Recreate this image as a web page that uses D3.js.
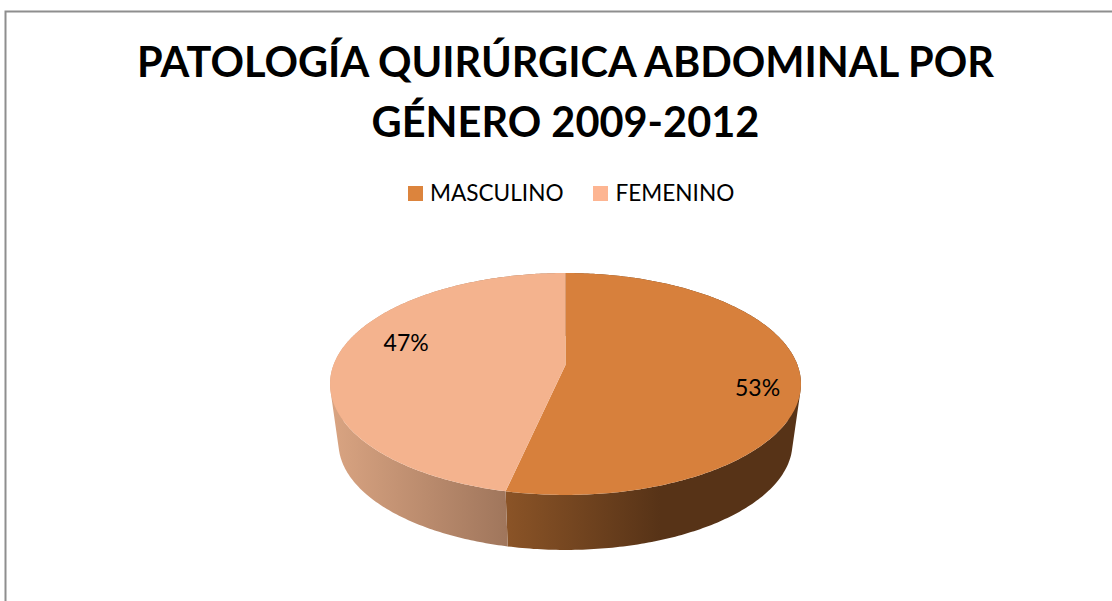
<!DOCTYPE html>
<html><head><meta charset="utf-8">
<script src="https://cdn.jsdelivr.net/npm/d3@7"></script>
<style>html,body{margin:0;padding:0;background:#fff;overflow:hidden}svg{display:block}text{font-family:Lato,Carlito,"Open Sans",sans-serif;fill:#000}</style>
</head><body><svg id="c" width="1112" height="601"></svg>
<script>
const titleLines = ["PATOLOGÍA QUIRÚRGICA ABDOMINAL POR", "GÉNERO 2009-2012"];
const categories = ["MASCULINO", "FEMENINO"];
const values = [53.45, 46.55];

const W = 1112, H = 601;
const topColors = ["#d7803c", "#f4b38e"];
const swatchColors = ["#dc843d", "#fdb592"];
const sideStops = [["#8b5427", "#573317"], ["#d8a381", "#a0765c"]];
const sideRanges = [[505, 660], [335, 506]];

const svg = d3.select("#c");
svg.append("rect").attr("width", W).attr("height", H).attr("fill", "#fff");
svg.append("rect").attr("x", 5.5).attr("y", 11.5).attr("width", W + 20).attr("height", H + 20)
  .attr("fill", "none").attr("stroke", "#8e8e8e").attr("stroke-width", 2);

svg.selectAll("text.title").data(titleLines).join("text").attr("class", "title")
  .attr("x", 565.5).attr("y", (d, i) => 77 + i * 60)
  .attr("text-anchor", "middle").attr("font-size", 41.5).attr("font-weight", 700)
  .text(d => d);

// legend
const legendX = [408, 593], legendTextX = [430, 615.5];
categories.forEach((c, i) => {
  svg.append("rect").attr("x", legendX[i]).attr("y", 186).attr("width", 15).attr("height", 15).attr("fill", swatchColors[i]);
  svg.append("text").attr("x", legendTextX[i]).attr("y", 201).attr("font-size", 22.6).text(c);
});

// perspective pie
const cx = 565.5, cy = 365, sx = 232, k = 107.7, p = 0.171, depthScale = 0.964, depthDy = 59.7;
const pie = d3.pie().sort(null).value(d => d);
const arcs = pie(values);

function project(a, r = 1, lower = false) {
  const X = Math.sin(a) * r, Y = -Math.cos(a) * r;
  const w = 1 - p * Y;
  let x = sx * X / w, y = k * Y / w;
  if (lower) { x *= depthScale; y = y * depthScale + depthDy; }
  return [cx + x, cy + y];
}
const line = d3.line();
const sample = (a0, a1) => { const n = 240; return d3.range(n + 1).map(i => a0 + (a1 - a0) * i / n); };

const defs = svg.append("defs");
arcs.forEach((d, i) => {
  const g = defs.append("linearGradient").attr("id", "side" + i).attr("gradientUnits", "userSpaceOnUse")
    .attr("x1", sideRanges[i][0]).attr("x2", sideRanges[i][1]).attr("y1", 0).attr("y2", 0);
  g.append("stop").attr("offset", 0).attr("stop-color", sideStops[i][0]);
  g.append("stop").attr("offset", 1).attr("stop-color", sideStops[i][1]);
});

// side walls: one consistently wound quad per angular step
svg.selectAll("path.side").data(arcs).join("path").attr("class", "side")
  .attr("fill", (d, i) => `url(#side${i})`)
  .attr("d", d => {
    const as = sample(d.startAngle, d.endAngle);
    return d3.pairs(as).map(([a, b]) => {
      const quad = [project(a), project(b), project(b, 1, true), project(a, 1, true)];
      if (d3.polygonArea(quad) < 0) quad.reverse();
      return line(quad) + "Z";
    }).join("");
  });

// top faces
svg.selectAll("path.top").data(arcs).join("path").attr("class", "top")
  .attr("fill", (d, i) => topColors[i])
  .attr("d", d => {
    const pts = [project(0, 0)].concat(sample(d.startAngle, d.endAngle).map(a => project(a)));
    return line(pts) + "Z";
  });

// value labels
const labelRadius = [0.82, 0.70], labelDy = [13, -14];
const fmt = v => Math.round(v) + "%";
svg.selectAll("text.val").data(arcs).join("text").attr("class", "val")
  .attr("text-anchor", "middle").attr("font-size", 23).attr("dy", "0.35em")
  .each(function (d, i) {
    const q = project((d.startAngle + d.endAngle) / 2, labelRadius[i]);
    d3.select(this).attr("x", q[0]).attr("y", q[1] + labelDy[i]);
  })
  .text(d => fmt(d.value));
</script></body></html>
